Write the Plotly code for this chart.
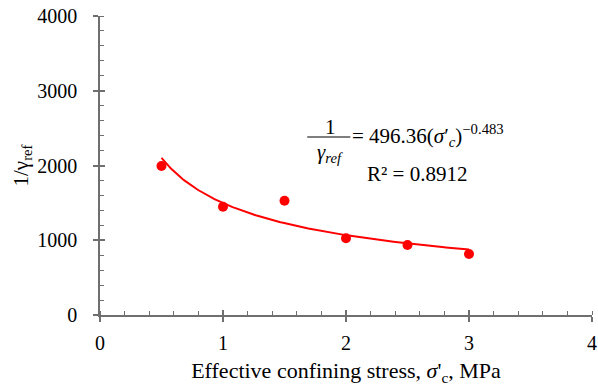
import numpy as np
import plotly.graph_objects as go

# Data
stress = [0.5, 1.0, 1.5, 2.0, 2.5, 3.0]          # MPa
inv_gamma = [1993, 1449, 1529, 1026, 936, 816]    # 1/gamma_ref
x_ticks = [0, 1, 2, 3, 4]
y_ticks = [0, 1000, 2000, 3000, 4000]

# Power-law trendline (least squares on log-log, as a spreadsheet trendline)
b, a = np.polyfit(np.log(stress), np.log(inv_gamma), 1)
xf = np.linspace(min(stress), max(stress), 200)
yf = np.exp(a) * xf ** b

RED = "#ff0000"
AX = "#6f6f6f"
FONT = "Liberation Serif, Times New Roman, serif"

fig = go.Figure()
fig.add_trace(go.Scatter(x=xf, y=yf, mode="lines",
                         line=dict(color=RED, width=2), showlegend=False,
                         hoverinfo="skip"))
fig.add_trace(go.Scatter(x=stress, y=inv_gamma, mode="markers",
                         marker=dict(color=RED, size=10), showlegend=False))

# inner halves of the crossing major ticks
fig.add_trace(go.Scatter(x=[None], y=[None], xaxis="x2", yaxis="y2",
                         showlegend=False))

xdom = [100 / 598, 592 / 598]
ydom = [1 - 315 / 387, 1 - 16 / 387]

fig.update_layout(
    width=598, height=387,
    margin=dict(l=0, r=0, t=0, b=0, autoexpand=False),
    paper_bgcolor="white", plot_bgcolor="white",
    font=dict(family=FONT, size=20, color="black"),
    xaxis=dict(domain=xdom, range=[0, 4], tickvals=x_ticks, automargin=False,
               showgrid=False, zeroline=False,
               showline=True, linecolor=AX, linewidth=1.5,
               ticks="outside", ticklen=5, tickcolor=AX, tickwidth=1.5,
               tickfont=dict(size=20), ticklabeloverflow="allow",
               ticklabelstandoff=4,
               minor=dict(dtick=0.2, ticks="inside", ticklen=4,
                          tickcolor=AX, tickwidth=1, showgrid=False),
               title=dict(text="Effective confining stress, <i>σ</i>'<sub>c</sub>, MPa",
                          font=dict(size=22), standoff=10)),
    yaxis=dict(domain=ydom, range=[0, 4000], tickvals=y_ticks, automargin=False,
               showgrid=False, zeroline=False,
               showline=True, linecolor=AX, linewidth=1.5,
               ticks="outside", ticklen=5, tickcolor=AX, tickwidth=1.5,
               tickfont=dict(size=20), ticklabeloverflow="allow",
               ticklabelstandoff=12,
               minor=dict(dtick=200, ticks="inside", ticklen=4,
                          tickcolor=AX, tickwidth=1, showgrid=False),
               title=dict(text="1/γ<sub>ref</sub>", font=dict(size=21),
                          standoff=3)),
    xaxis2=dict(domain=xdom, range=[0, 4], overlaying="x", anchor="y2",
                tickvals=x_ticks, showticklabels=False, showgrid=False,
                zeroline=False, showline=False, ticks="inside", ticklen=5,
                tickcolor=AX, tickwidth=1.5, automargin=False),
    yaxis2=dict(domain=ydom, range=[0, 4000], overlaying="y", anchor="x2",
                tickvals=y_ticks, showticklabels=False, showgrid=False,
                zeroline=False, showline=False, ticks="inside", ticklen=5,
                tickcolor=AX, tickwidth=1.5, automargin=False),
)

EQF = dict(family=FONT, size=21, color="black")
fig.add_annotation(x=1.87, y=2515, xref="x", yref="y", text="1",
                   showarrow=False, font=EQF)
fig.add_annotation(x=1.87, y=2170, xref="x", yref="y",
                   text="<i>γ<sub>ref</sub></i>", showarrow=False, font=EQF)
fig.add_shape(type="line", xref="x", yref="y", x0=1.685, x1=2.035,
              y0=2381, y1=2381, line=dict(color="black", width=1.2))
fig.add_annotation(x=2.035, y=2395, xref="x", yref="y", xanchor="left",
                   text="= 496.36(<i>σ</i>′<sub><i>c</i></sub>)<sup>−0.483</sup>",
                   showarrow=False, font=EQF)
fig.add_annotation(x=2.58, y=1886, xref="x", yref="y",
                   text="R² = 0.8912", showarrow=False, font=EQF)

fig.write_html("out.html")
